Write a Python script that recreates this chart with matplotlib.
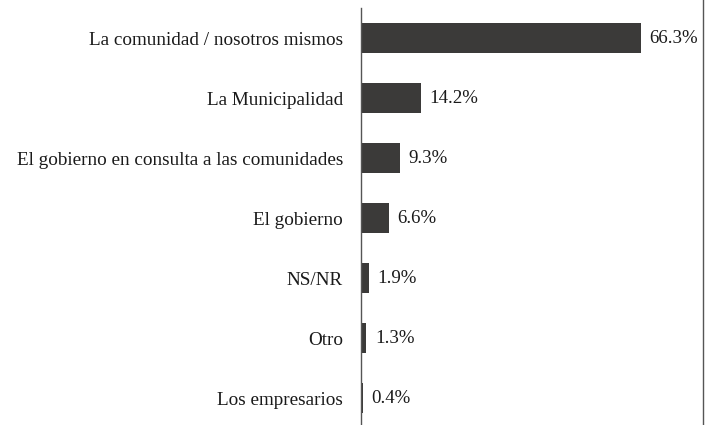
import matplotlib.pyplot as plt
from matplotlib.lines import Line2D

categories = ["La comunidad / nosotros mismos", "La Municipalidad",
              "El gobierno en consulta a las comunidades", "El gobierno",
              "NS/NR", "Otro", "Los empresarios"]
values = [66.3, 14.2, 9.3, 6.6, 1.9, 1.3, 0.4]

plt.rcParams['font.family'] = ['Liberation Serif', 'DejaVu Serif']

fig = plt.figure(figsize=(7.11, 4.25), dpi=100)
ax = fig.add_axes([361 / 711, -3 / 425, 342 / 711, 420 / 425])

pos = list(range(len(categories)))
ax.barh(pos, values, height=0.5, color="#3b3a39")
for p, v in zip(pos, values):
    ax.text(v + 2.0, p, "%.1f%%" % v, va="center", ha="left", fontsize=13.6, color="#1a1a1a")

ax.set_xlim(0, 81)
ax.set_ylim(6.5, -0.5)
ax.set_yticks(pos)
ax.set_yticklabels(categories, fontsize=13.8, color="#1a1a1a")
ax.tick_params(axis="y", length=0, pad=13)
ax.set_xticks([])
for s in ["top", "right", "bottom"]:
    ax.spines[s].set_visible(False)
ax.spines["left"].set_color("#555555")
ax.spines["left"].set_linewidth(1.0)

# right border line of the figure
fig.add_artist(Line2D([703 / 711, 703 / 711], [0, 1], transform=fig.transFigure,
                      color="#555555", linewidth=1.0))

fig.savefig("out.png", dpi=100)
